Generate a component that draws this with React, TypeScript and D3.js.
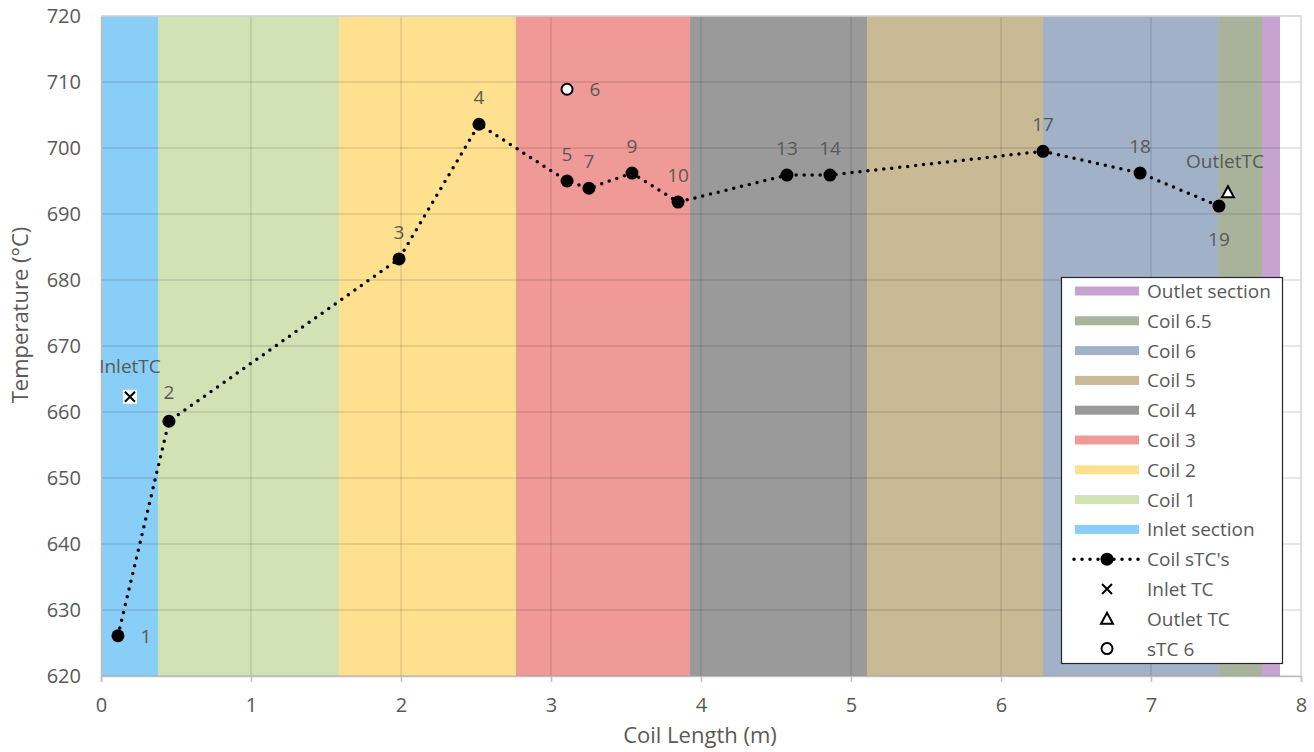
import React, { useEffect, useRef } from "react";
import * as d3 from "d3";

// section bands along the coil (m)
const bandNames = ["Inlet section", "Coil 1", "Coil 2", "Coil 3", "Coil 4", "Coil 5", "Coil 6", "Coil 6.5", "Outlet section"];
const bandStarts = [0, 0.38, 1.587, 2.767, 3.927, 5.107, 6.28, 7.447, 7.74];
const bandEnds = [0.38, 1.587, 2.767, 3.927, 5.107, 6.28, 7.447, 7.74, 7.86];
const bandColors = ["#88CEF6", "#D1E2B5", "#FEE08F", "#F09A98", "#9A9A9A", "#C9B994", "#A1B1C8", "#A9B39B", "#C7A3D2"];

// coil surface thermocouples
const stcLabels = ["1", "2", "3", "4", "5", "7", "9", "10", "13", "14", "17", "18", "19"];
const stcX = [0.113, 0.453, 1.987, 2.52, 3.107, 3.253, 3.54, 3.847, 4.573, 4.86, 6.28, 6.927, 7.453];
const stcT = [626.1, 658.6, 683.2, 703.6, 695.0, 693.9, 696.2, 691.8, 695.9, 695.9, 699.5, 696.2, 691.2];

const inletTC = { x: 0.193, t: 662.3 };
const outletTC = { x: 7.513, t: 693.3 };
const stc6 = { x: 3.107, t: 708.9 };

const xTicks = [0, 1, 2, 3, 4, 5, 6, 7, 8];
const yTicks = [620, 630, 640, 650, 660, 670, 680, 690, 700, 710, 720];

const FONT = "'Open Sans', sans-serif";
const TXT = "#595959";

export default function App() {
  const ref = useRef<SVGSVGElement>(null);

  useEffect(() => {
    const svg = d3.select(ref.current);
    svg.selectAll("*").remove();

    const x = d3.scaleLinear().domain([0, 8]).range([101, 1301]);
    const y = d3.scaleLinear().domain([620, 720]).range([676, 16]);

    // bands
    svg
      .append("g")
      .selectAll("rect")
      .data(bandNames)
      .enter()
      .append("rect")
      .attr("x", (d, i) => x(bandStarts[i]))
      .attr("width", (d, i) => x(bandEnds[i]) - x(bandStarts[i]))
      .attr("y", y(720))
      .attr("height", y(620) - y(720))
      .attr("fill", (d, i) => bandColors[i]);

    // gridlines
    const grid = svg.append("g").attr("stroke", "#000").attr("stroke-opacity", 0.13).attr("stroke-width", 1.3);
    yTicks.forEach((t) => {
      grid.append("line").attr("x1", x(0)).attr("x2", x(8)).attr("y1", y(t)).attr("y2", y(t));
    });
    xTicks.slice(1).forEach((t) => {
      grid.append("line").attr("x1", x(t)).attr("x2", x(t)).attr("y1", y(620)).attr("y2", y(720));
    });

    // axes
    const xAxis = svg
      .append("g")
      .attr("transform", `translate(0,${y(620)})`)
      .call(d3.axisBottom(x).tickValues(xTicks).tickSize(6).tickPadding(16).tickFormat(d3.format("d")));
    xAxis.select(".domain").attr("stroke", "#bfbfbf").attr("stroke-width", 1.5);
    xAxis.selectAll(".tick line").attr("stroke", "#bfbfbf").attr("stroke-width", 1.5);
    xAxis.selectAll("text").attr("fill", TXT).style("font-size", "20px").style("font-family", FONT);

    const yAxis = svg
      .append("g")
      .attr("transform", `translate(${x(0)},0)`)
      .call(d3.axisLeft(y).tickValues(yTicks).tickSize(0).tickPadding(20).tickFormat(d3.format("d")));
    yAxis.select(".domain").attr("stroke", "#bfbfbf").attr("stroke-width", 1.5);
    yAxis.selectAll("text").attr("fill", TXT).style("font-size", "20px").style("font-family", FONT);

    svg
      .append("text")
      .attr("x", 700)
      .attr("y", 743)
      .attr("text-anchor", "middle")
      .attr("fill", TXT)
      .style("font-size", "22px")
      .style("font-family", FONT)
      .text("Coil Length (m)");

    svg
      .append("text")
      .attr("transform", `translate(28,315) rotate(-90)`)
      .attr("text-anchor", "middle")
      .attr("fill", TXT)
      .style("font-size", "22px")
      .style("font-family", FONT)
      .text("Temperature (°C)");

    // dotted line
    const line = d3
      .line<number>()
      .x((d, i) => x(stcX[i]))
      .y((d) => y(d));
    svg
      .append("path")
      .attr("d", line(stcT))
      .attr("fill", "none")
      .attr("stroke", "#000")
      .attr("stroke-width", 3.5)
      .attr("stroke-linecap", "round")
      .attr("stroke-dasharray", "0 8");

    svg
      .append("g")
      .selectAll("circle")
      .data(stcT)
      .enter()
      .append("circle")
      .attr("cx", (d, i) => x(stcX[i]))
      .attr("cy", (d) => y(d))
      .attr("r", 6.5)
      .attr("fill", "#000");

    // point labels
    const offs: Record<string, [number, number]> = {
      "1": [28, 7],
      "2": [0, -22],
      "19": [0, 40],
    };
    svg
      .append("g")
      .selectAll("text")
      .data(stcLabels)
      .enter()
      .append("text")
      .attr("x", (d, i) => x(stcX[i]) + (offs[d] ? offs[d][0] : 0))
      .attr("y", (d, i) => y(stcT[i]) + (offs[d] ? offs[d][1] : -20))
      .attr("text-anchor", "middle")
      .attr("fill", TXT)
      .style("font-size", "19px")
      .style("font-family", FONT)
      .text((d) => d);

    // inlet TC
    const ix = x(inletTC.x);
    const iy = y(inletTC.t);
    svg.append("rect").attr("x", ix - 7).attr("y", iy - 7).attr("width", 14).attr("height", 14).attr("fill", "#fff");
    svg
      .append("path")
      .attr("d", `M${ix - 5},${iy - 5}L${ix + 5},${iy + 5}M${ix - 5},${iy + 5}L${ix + 5},${iy - 5}`)
      .attr("stroke", "#000")
      .attr("stroke-width", 2);
    svg
      .append("text")
      .attr("x", ix)
      .attr("y", iy - 24)
      .attr("text-anchor", "middle")
      .attr("fill", TXT)
      .style("font-size", "19px")
      .style("font-family", FONT)
      .text("InletTC");

    // outlet TC
    const ox = x(outletTC.x);
    const oy = y(outletTC.t);
    svg
      .append("path")
      .attr("d", `M${ox},${oy - 6}L${ox + 6},${oy + 5}L${ox - 6},${oy + 5}Z`)
      .attr("fill", "#fff")
      .attr("stroke", "#000")
      .attr("stroke-width", 2);
    svg
      .append("text")
      .attr("x", ox - 3)
      .attr("y", oy - 24)
      .attr("text-anchor", "middle")
      .attr("fill", TXT)
      .style("font-size", "19px")
      .style("font-family", FONT)
      .text("OutletTC");

    // sTC 6
    svg
      .append("circle")
      .attr("cx", x(stc6.x))
      .attr("cy", y(stc6.t))
      .attr("r", 5.5)
      .attr("fill", "#fff")
      .attr("stroke", "#000")
      .attr("stroke-width", 2);
    svg
      .append("text")
      .attr("x", x(stc6.x) + 28)
      .attr("y", y(stc6.t) + 7)
      .attr("text-anchor", "middle")
      .attr("fill", TXT)
      .style("font-size", "19px")
      .style("font-family", FONT)
      .text("6");

    // plot border (top/right)
    svg
      .append("path")
      .attr("d", `M${x(0)},${y(720)}H${x(8)}V${y(620)}`)
      .attr("fill", "none")
      .attr("stroke", "#d9d9d9")
      .attr("stroke-width", 1.3);

    // legend
    const lg = svg.append("g");
    lg.append("rect")
      .attr("x", 1061.5)
      .attr("y", 277.5)
      .attr("width", 221)
      .attr("height", 386)
      .attr("fill", "#fff")
      .attr("stroke", "#262626")
      .attr("stroke-width", 1.2);

    const legendItems = [...bandNames].reverse();
    const legendColors = [...bandColors].reverse();
    const ly0 = 291;
    const dy = 29.8;
    legendItems.forEach((name, i) => {
      const yy = ly0 + i * dy;
      lg.append("rect").attr("x", 1075).attr("y", yy - 4.5).attr("width", 64).attr("height", 9).attr("fill", legendColors[i]);
      lg.append("text")
        .attr("x", 1147)
        .attr("y", yy + 7)
        .attr("fill", TXT)
        .style("font-size", "19px")
        .style("font-family", FONT)
        .text(name);
    });
    const extra = ["Coil sTC's", "Inlet TC", "Outlet TC", "sTC 6"];
    extra.forEach((name, j) => {
      const yy = ly0 + (legendItems.length + j) * dy;
      const cx = 1107;
      if (j === 0) {
        lg.append("line")
          .attr("x1", 1074)
          .attr("x2", 1140)
          .attr("y1", yy)
          .attr("y2", yy)
          .attr("stroke", "#000")
          .attr("stroke-width", 3.5)
          .attr("stroke-linecap", "round")
          .attr("stroke-dasharray", "0 8");
        lg.append("circle").attr("cx", cx).attr("cy", yy).attr("r", 6.5).attr("fill", "#000");
      } else if (j === 1) {
        lg.append("path")
          .attr("d", `M${cx - 5},${yy - 5}L${cx + 5},${yy + 5}M${cx - 5},${yy + 5}L${cx + 5},${yy - 5}`)
          .attr("stroke", "#000")
          .attr("stroke-width", 2);
      } else if (j === 2) {
        lg.append("path")
          .attr("d", `M${cx},${yy - 6}L${cx + 6},${yy + 5}L${cx - 6},${yy + 5}Z`)
          .attr("fill", "#fff")
          .attr("stroke", "#000")
          .attr("stroke-width", 2);
      } else {
        lg.append("circle")
          .attr("cx", cx)
          .attr("cy", yy)
          .attr("r", 5.5)
          .attr("fill", "#fff")
          .attr("stroke", "#000")
          .attr("stroke-width", 2);
      }
      lg.append("text")
        .attr("x", 1147)
        .attr("y", yy + 7)
        .attr("fill", TXT)
        .style("font-size", "19px")
        .style("font-family", FONT)
        .text(name);
    });
  }, []);

  return (
    <svg
      ref={ref}
      width={1314}
      height={752}
      style={{ position: "absolute", left: 0, top: 0, background: "#fff" }}
    />
  );
}
